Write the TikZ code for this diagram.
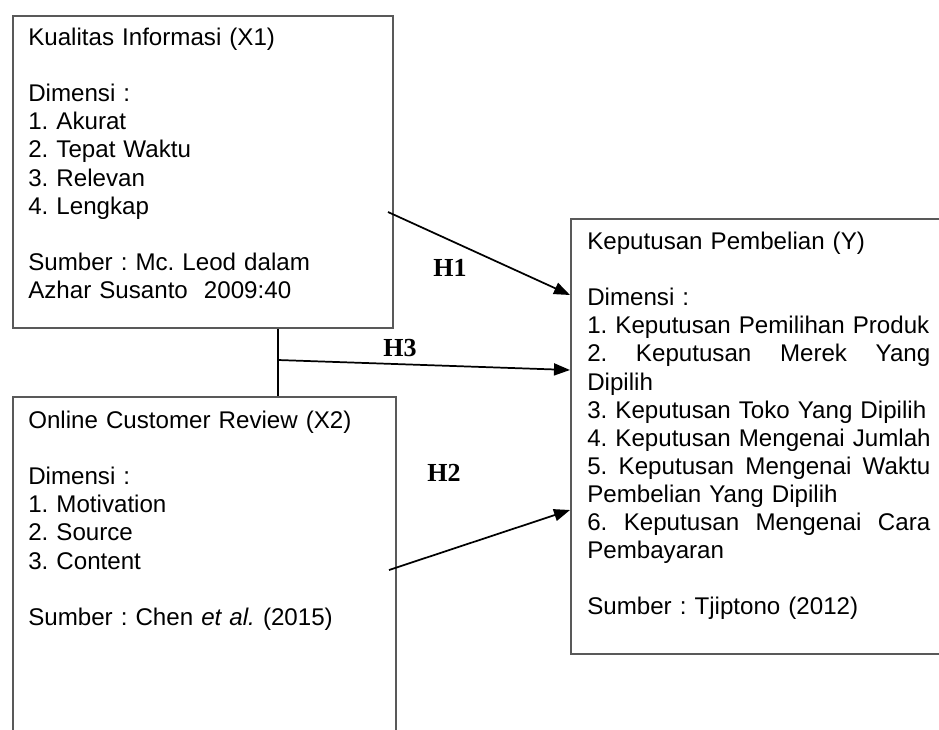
\documentclass[tikz,border=0pt]{standalone}
\usepackage{fontspec}
\setmainfont{Liberation Sans}
\newfontfamily\hfont{Liberation Serif}
\usetikzlibrary{arrows.meta}
\newcommand{\boxtextfont}{\fontsize{18.1pt}{21.075pt}\selectfont\frenchspacing\hyphenpenalty=10000\relax}
\newcommand{\jline}[1]{\leavevmode\hbox to 257.25pt{#1}}
\begin{document}
\begin{tikzpicture}[x=0.75pt,y=-0.75pt,
  boxst/.style={draw=black!65,line width=1.3pt,rectangle,anchor=north west,inner sep=0pt},
  txt/.style={anchor=base west,inner sep=0pt,align=left,font=\boxtextfont},
  hlab/.style={font=\hfont\bfseries\fontsize{19.5pt}{22pt}\selectfont,inner sep=0pt},
  conn/.style={line width=1.3pt,black},
  arr/.style={conn,-{Triangle[length=12pt,width=9pt]}}]
\useasboundingbox (0,0) rectangle (939,729);
\fill[white] (0,0) rectangle (939,729);
% boxes
\node[boxst,minimum width=285pt,minimum height=234pt] (x1) at (12,15) {};
\node[boxst,minimum width=287.25pt,minimum height=303pt] (x2) at (12,396) {};
\node[boxst,minimum width=296.25pt,minimum height=326.25pt] (y) at (570,218) {};
% texts
\node[txt,text width=270pt] (x1t) at (28,45.5) {Kualitas Informasi (X1)\\[21.075pt]
Dimensi :\\
1. Akurat\\
2. Tepat Waktu\\
3. Relevan\\
4. Lengkap\\[21.075pt]
Sumber : Mc. Leod dalam\\
Azhar Susanto\ \ 2009:40};
\node[txt,text width=270pt] (x2t) at (28,428.5) {Online Customer Review (X2)\\[21.075pt]
Dimensi :\\
1. Motivation\\
2. Source\\
3. Content\\[21.075pt]
Sumber : Chen \textit{et al.} (2015)};
\node[txt,text width=275pt] (yt) at (587,249.5) {Keputusan Pembelian (Y)\\[21.075pt]
Dimensi :\\
1. Keputusan Pemilihan Produk\\
\jline{2.\hfill Keputusan\hfill Merek\hfill Yang}\\
Dipilih\\
3. Keputusan Toko Yang Dipilih\\
4. Keputusan Mengenai Jumlah\\
\jline{5.\hfill Keputusan\hfill Mengenai\hfill Waktu}\\
Pembelian Yang Dipilih\\
\jline{6.\hfill Keputusan\hfill Mengenai\hfill Cara}\\
Pembayaran\\[21.075pt]
Sumber : Tjiptono (2012)};
% connector points
\coordinate (j) at (278,360);
\coordinate (h1s) at (388,212);
\coordinate (h1e) at (570,295);
\coordinate (h3e) at (570,370);
\coordinate (h2s) at (389,570);
\coordinate (h2e) at (570,510);
% connectors
\draw[conn] (x1.south -| j) -- (x2.north -| j);
\draw[arr] (h1s) -- (y.west |- h1e);
\draw[arr] (j) -- (y.west |- h3e);
\draw[arr] (h2s) -- (y.west |- h2e);
% labels
\node[hlab] (h1) at (450,268) {H1};
\node[hlab] (h3) at (400,348) {H3};
\node[hlab] (h2) at (444,473) {H2};
\end{tikzpicture}
\end{document}
